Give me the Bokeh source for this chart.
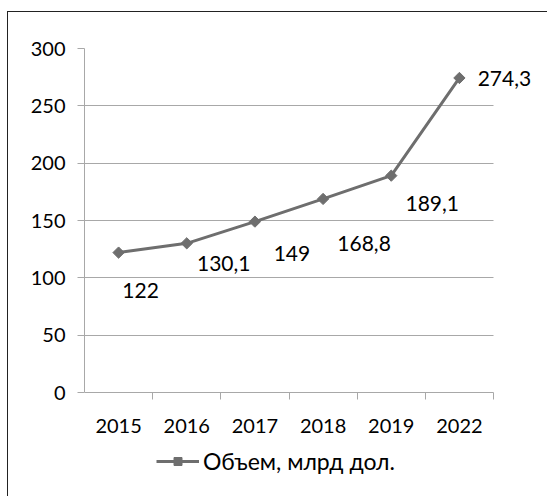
import math
from bokeh.plotting import figure
from bokeh.models import (ColumnDataSource, Range1d, FixedTicker, LabelSet,
                          Legend, LegendItem)
from bokeh.core.properties import value
from bokeh.embed import file_html
from bokeh.resources import INLINE

# ---- data ----
years = ["2015", "2016", "2017", "2018", "2019", "2022"]
volumes = [122, 130.1, 149, 168.8, 189.1, 274.3]
value_labels = ["122", "130,1", "149", "168,8", "189,1", "274,3"]
series_name = "Объем, млрд дол."
y_ticks = [0, 50, 100, 150, 200, 250, 300]

# label offsets in screen pixels (style only)
label_dx = [22, 37, 37, 41, 41, 45]
label_dy = [-38, -20, -32, -45, -28, -1]

FONT = "Lato"
LINE = "#6E6E6E"
GRID = "#A8A8A8"

# ---- geometry (pixels) ----
W, H = 540, 485
ML, MT = 76, 36
AXIS_W = 409      # pixel length of the category axis
AXIS_H = 344      # pixel length of the 0..300 value axis
TICK = 7

n = len(years)
y_max = y_ticks[-1]
frame_w = W - ML
frame_h = H - MT
x_end = n * frame_w / AXIS_W
y_start = y_max - y_max * frame_h / AXIS_H
tick_units = TICK * y_max / AXIS_H

xs = [i + 0.5 for i in range(n)]
src = ColumnDataSource(dict(x=xs, y=volumes, lab=value_labels,
                            dx=label_dx, dy=label_dy, year=years))

p = figure(width=W, height=H, output_backend="svg", toolbar_location=None,
           x_range=Range1d(0, x_end), y_range=Range1d(y_start, y_max),
           x_axis_location=None,
           min_border_left=ML, min_border_right=0, min_border_top=MT,
           min_border_bottom=0)
p.styles = {"border-left": "1px solid #222", "border-top": "1px solid #222",
            "margin-top": "11px", "margin-left": "7px"}
p.outline_line_color = None

# horizontal gridlines limited to the category span
p.ygrid.grid_line_color = GRID
p.ygrid.grid_line_width = 1
p.ygrid.ticker = FixedTicker(ticks=y_ticks)
p.ygrid.cross_bounds = (0, n)

# category boundary ticks below the baseline
p.xgrid.ticker = FixedTicker(ticks=list(range(n + 1)))
p.xgrid.cross_bounds = (-tick_units, 0)
p.xgrid.grid_line_color = GRID
p.xgrid.grid_line_width = 1

# y axis
p.yaxis.ticker = FixedTicker(ticks=y_ticks)
p.yaxis.bounds = (0, y_max)
p.yaxis.axis_line_color = GRID
p.yaxis.major_tick_line_color = GRID
p.yaxis.major_tick_out = TICK
p.yaxis.major_tick_in = 0
p.yaxis.minor_tick_line_color = None
p.yaxis.major_label_text_font = FONT
p.yaxis.major_label_text_font_size = "20px"
p.yaxis.major_label_text_color = "#000000"
p.yaxis.major_label_standoff = 12

ln = p.line("x", "y", source=src, line_color=LINE, line_width=3)
mk = p.scatter("x", "y", source=src, marker="square", size=8,
               angle=math.pi / 4, fill_color=LINE, line_color=LINE)

# category labels
cat_labels = LabelSet(x="x", y=0, text="year", source=src, y_offset=-33,
                      text_align="center", text_baseline="middle",
                      text_font=value(FONT), text_font_size="20px",
                      text_color="#000000")
p.add_layout(cat_labels)

# data labels
labels = LabelSet(x="x", y="y", text="lab", source=src,
                  x_offset="dx", y_offset="dy",
                  text_align="center", text_baseline="middle",
                  text_font=value(FONT), text_font_size="21px",
                  text_color="#000000")
p.add_layout(labels)

legend = Legend(items=[LegendItem(label=series_name, renderers=[ln, mk])],
                location=(72, 22), orientation="horizontal",
                label_text_font=FONT, label_text_font_size="23px",
                label_text_color="#000000", glyph_width=43, glyph_height=20,
                label_standoff=4, padding=4, margin=0,
                border_line_color=None, background_fill_alpha=0)
p.add_layout(legend)

open("out.html", "w").write(file_html(p, INLINE))
